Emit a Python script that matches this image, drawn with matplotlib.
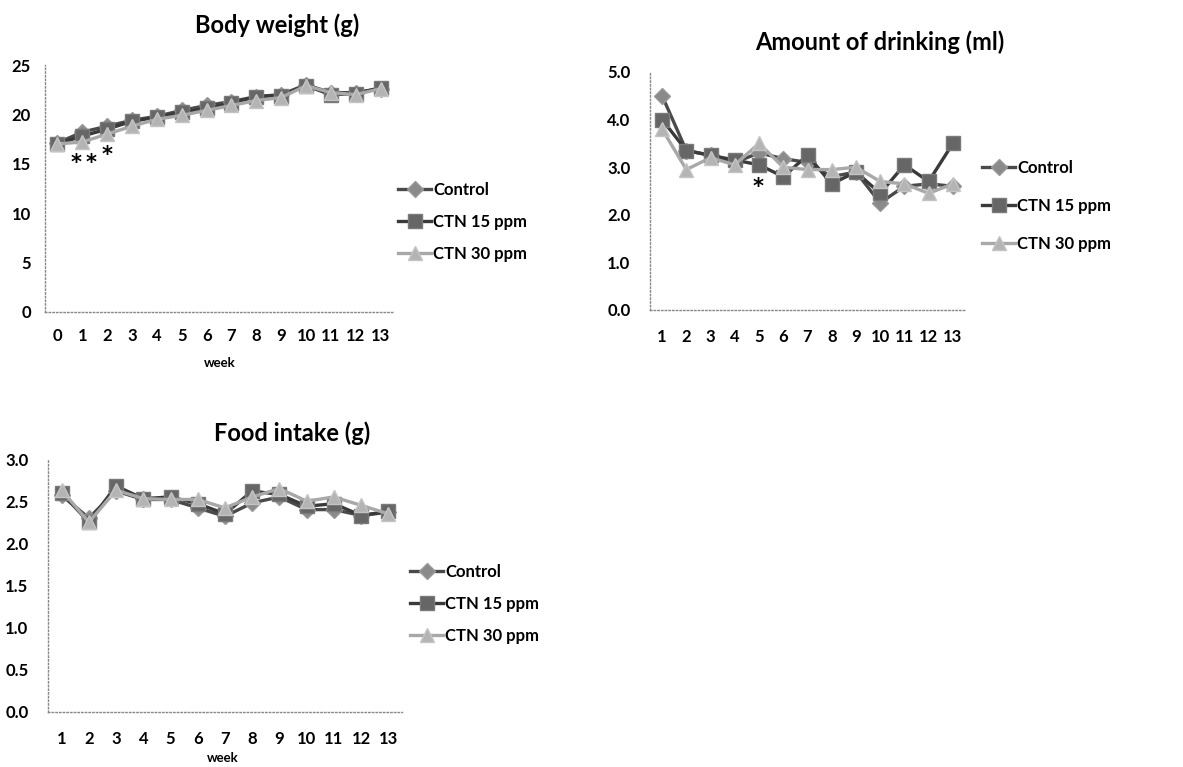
import matplotlib
matplotlib.use("Agg")
import matplotlib.pyplot as plt
from matplotlib.ticker import FixedLocator, FormatStrFormatter

plt.rcParams['font.family'] = ['Lato', 'DejaVu Sans']
plt.rcParams['font.weight'] = 'bold'

series_names = ["Control", "CTN 15 ppm", "CTN 30 ppm"]

# Body weight (g), weeks 0-13
bw_weeks = list(range(0, 14))
bw_control = [17.1, 18.2, 18.8, 19.4, 19.8, 20.4, 20.9, 21.3, 21.8, 22.0, 23.0, 22.2, 22.2, 22.6]
bw_ctn15 = [17.0, 17.8, 18.5, 19.3, 19.7, 20.2, 20.6, 21.1, 21.8, 21.9, 22.9, 22.0, 22.1, 22.7]
bw_ctn30 = [17.0, 17.2, 18.0, 18.8, 19.5, 19.9, 20.4, 20.9, 21.4, 21.7, 22.9, 22.2, 22.0, 22.6]

# Amount of drinking (ml), weeks 1-13
dr_weeks = list(range(1, 14))
dr_control = [4.50, 3.35, 3.25, 3.10, 3.30, 3.18, 3.10, 2.80, 2.90, 2.25, 2.60, 2.65, 2.60]
dr_ctn15 = [4.00, 3.35, 3.25, 3.15, 3.05, 2.80, 3.25, 2.65, 2.90, 2.45, 3.05, 2.70, 3.50]
dr_ctn30 = [3.80, 2.95, 3.20, 3.05, 3.50, 3.00, 2.95, 2.95, 3.00, 2.70, 2.65, 2.45, 2.65]

# Food intake (g), weeks 1-13
fi_weeks = list(range(1, 14))
fi_control = [2.57, 2.30, 2.62, 2.52, 2.52, 2.42, 2.32, 2.48, 2.55, 2.40, 2.40, 2.33, 2.37]
fi_ctn15 = [2.60, 2.25, 2.68, 2.53, 2.55, 2.47, 2.35, 2.62, 2.58, 2.44, 2.47, 2.33, 2.38]
fi_ctn30 = [2.63, 2.25, 2.63, 2.53, 2.52, 2.52, 2.42, 2.55, 2.65, 2.50, 2.55, 2.45, 2.35]

styles = [
    dict(marker='D', color='#4a4a4a', markerfacecolor='#8a8a8a', markeredgecolor='#9a9a9a', markersize=8),
    dict(marker='s', color='#3a3a3a', markerfacecolor='#666666', markeredgecolor='#7a7a7a', markersize=9.5),
    dict(marker='^', color='#a8a8a8', markerfacecolor='#b4b4b4', markeredgecolor='#c4c4c4', markersize=10),
]

fig = plt.figure(figsize=(11.83, 7.67), dpi=100)


def make_panel(rect, weeks, data, ylim, yticks, yfmt, title, title_xy, leg_xy,
               leg_spacing, ypad, xpad):
    ax = fig.add_axes(rect)
    for vals, name, st in zip(data, series_names, styles):
        ax.plot(weeks, vals, label=name, linewidth=2.4, **st)
    ax.set_xlim(weeks[0] - 0.5, weeks[-1] + 0.5)
    ax.set_ylim(*ylim)
    ax.xaxis.set_major_locator(FixedLocator(weeks))
    ax.yaxis.set_major_locator(FixedLocator(yticks))
    ax.yaxis.set_major_formatter(FormatStrFormatter(yfmt))
    for side in ('top', 'right'):
        ax.spines[side].set_visible(False)
    for side in ('left', 'bottom'):
        ax.spines[side].set_linestyle(':')
        ax.spines[side].set_color('#888888')
        ax.spines[side].set_linewidth(1.0)
    ax.tick_params(axis='y', length=0, pad=ypad, labelsize=12)
    ax.tick_params(axis='x', length=0, pad=xpad, labelsize=12)
    for lbl in ax.get_xticklabels() + ax.get_yticklabels():
        lbl.set_fontweight('bold')
    fig.text(title_xy[0], title_xy[1], title, ha='center', va='center',
             fontsize=17, fontweight='bold')
    ax.legend(loc='center left', bbox_to_anchor=leg_xy, bbox_transform=fig.transFigure,
              frameon=False, handlelength=2.0, handletextpad=0.1,
              labelspacing=leg_spacing, borderpad=0, borderaxespad=0,
              prop=dict(weight='bold', size=12))
    return ax


ax1 = make_panel([45 / 1183, 1 - 311.7 / 767, 348 / 1183, 246.7 / 767],
                 bw_weeks, [bw_control, bw_ctn15, bw_ctn30], (0, 25),
                 [0, 5, 10, 15, 20, 25], '%d', 'Body weight (g)',
                 (277 / 1183, 1 - 25 / 767), (398 / 1183, 1 - 222 / 767), 0.95, 10, 12)

ax2 = make_panel([650 / 1183, 1 - 310 / 767, 315 / 1183, 238 / 767],
                 dr_weeks, [dr_control, dr_ctn15, dr_ctn30], (0, 5),
                 [0, 1, 2, 3, 4, 5], '%.1f', 'Amount of drinking (ml)',
                 (880 / 1183, 1 - 42 / 767), (982 / 1183, 1 - 206 / 767), 1.3, 14, 14)

ax3 = make_panel([48 / 1183, 1 - 712 / 767, 354 / 1183, 253 / 767],
                 fi_weeks, [fi_control, fi_ctn15, fi_ctn30], (0, 3),
                 [0, 0.5, 1, 1.5, 2, 2.5, 3], '%.1f', 'Food intake (g)',
                 (292 / 1183, 1 - 433 / 767), (410 / 1183, 1 - 604 / 767), 0.95, 14, 14)

# week axis captions
fig.text(220 / 1183, 1 - 363 / 767, 'week', ha='center', va='center', fontsize=9.5, fontweight='bold')
fig.text(223 / 1183, 1 - 758 / 767, 'week', ha='center', va='center', fontsize=9.5, fontweight='bold')

# significance marks
for x, y in [(0.75, 15.1), (1.35, 15.1), (1.99, 15.9)]:
    ax1.text(x, y, '*', ha='center', va='center', fontsize=15, color='black',
             family='DejaVu Sans')
ax2.text(4.96, 2.58, '*', ha='center', va='center', fontsize=15, color='black',
         family='DejaVu Sans')

fig.savefig('out.png', dpi=100)
